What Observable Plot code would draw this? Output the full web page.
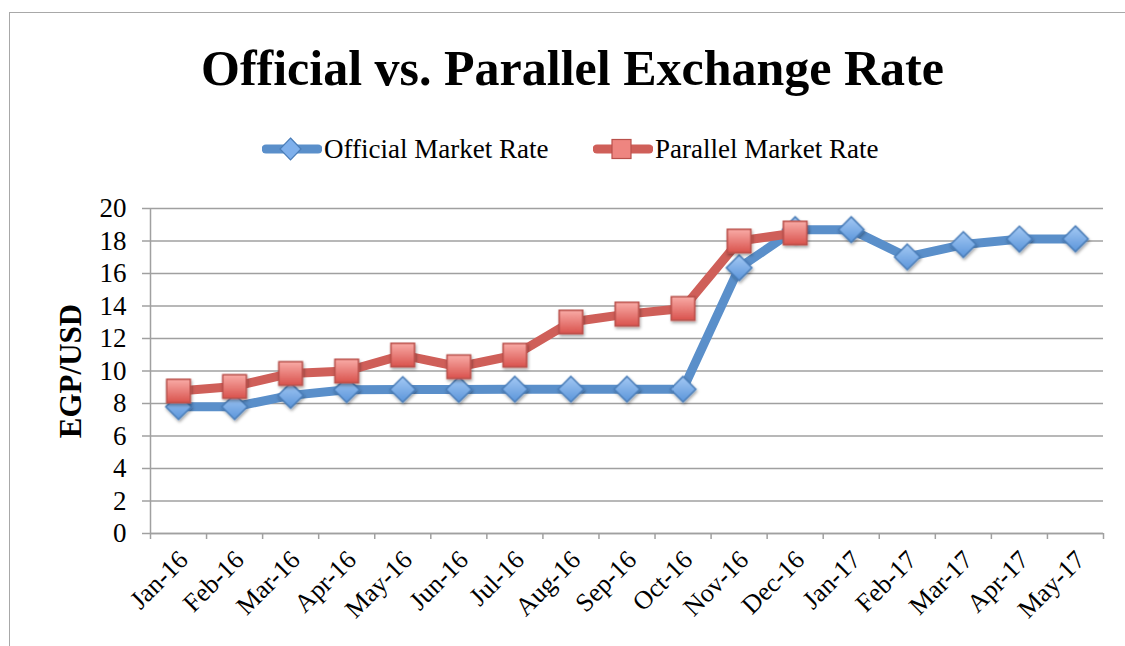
<!DOCTYPE html>
<html>
<head>
<meta charset="utf-8">
<script src="https://cdn.jsdelivr.net/npm/d3@7"></script>
<script src="https://cdn.jsdelivr.net/npm/@observablehq/plot@0.6"></script>
<style>
  body { margin: 0; background: #fff; }
  #wrap { position: relative; width: 1125px; height: 646px; overflow: hidden; font-family: "Liberation Serif", serif; }
  #frame { position: absolute; left: 9px; top: 12px; width: 1200px; height: 700px; border-left: 1.5px solid #a8a8a8; border-top: 1.5px solid #a8a8a8; }
  #title { position: absolute; left: 0; top: 43px; width: 1145px; text-align: center; font-size: 50px; font-weight: bold; color: #000; line-height: 1; }
  .leg { position: absolute; top: 134px; height: 30px; display: flex; align-items: center; font-size: 27px; color: #000; }
  .leg svg { margin-right: 2px; }
  #chart { position: absolute; left: 0; top: 0; }
</style>
</head>
<body>
<div id="wrap">
  <div id="frame"></div>
  <div id="title">Official vs. Parallel Exchange Rate</div>
  <div class="leg" id="leg1" style="left:262px"></div>
  <div class="leg" id="leg2" style="left:593px"></div>
  <div id="chart"></div>
</div>
<script>
const months = ["Jan-16","Feb-16","Mar-16","Apr-16","May-16","Jun-16","Jul-16","Aug-16","Sep-16","Oct-16","Nov-16","Dec-16","Jan-17","Feb-17","Mar-17","Apr-17","May-17"];
const official = [7.8, 7.8, 8.5, 8.85, 8.86, 8.86, 8.88, 8.88, 8.88, 8.88, 16.35, 18.7, 18.7, 17.02, 17.78, 18.12, 18.13];
const parallel = [8.77, 9.05, 9.85, 10.0, 10.98, 10.26, 10.97, 13.02, 13.5, 13.85, 18.0, 18.49];
const yTicks = [0, 2, 4, 6, 8, 10, 12, 14, 16, 18, 20];
const seriesNames = ["Official Market Rate", "Parallel Market Rate"];

const BLUE = "#5a8fca", BLUE_EDGE = "#4a7db8";
const RED = "#cf5f59", RED_EDGE = "#b9504b";

const officialRows = official.map((v, i) => ({i: i + 0.5, month: months[i], value: v}));
const parallelRows = parallel.map((v, i) => ({i: i + 0.5, month: months[i], value: v}));

const svgNS = "http://www.w3.org/2000/svg";
const defsMark = () => {
  const d = document.createElementNS(svgNS, "defs");
  d.innerHTML = `
    <linearGradient id="gBlue" x1="0" y1="0" x2="0" y2="1">
      <stop offset="0" stop-color="#a4c9f4"/><stop offset="1" stop-color="#5b95da"/>
    </linearGradient>
    <linearGradient id="gRed" x1="0" y1="0" x2="0" y2="1">
      <stop offset="0" stop-color="#f9aca7"/><stop offset="1" stop-color="#d9524d"/>
    </linearGradient>
    <filter id="shadow" x="-50%" y="-50%" width="200%" height="200%">
      <feDropShadow dx="1" dy="2" stdDeviation="1.5" flood-color="#000" flood-opacity="0.35"/>
    </filter>`;
  return d;
};

const chart = Plot.plot({
  width: 1125,
  height: 646,
  marginLeft: 150,
  marginRight: 22,
  marginTop: 208,
  marginBottom: 113,
  style: { fontFamily: "Liberation Serif, serif", color: "#000", background: "transparent" },
  x: { type: "linear", domain: [0, months.length], axis: null },
  y: { domain: [0, 20], axis: null },
  marks: [
    defsMark,
    Plot.gridY(yTicks, { stroke: "#a0a0a0", strokeOpacity: 1, strokeWidth: 1.5 }),
    Plot.axisY(yTicks, { tickSize: 8, stroke: "#a0a0a0", strokeWidth: 1.5, fontSize: 27, tickPadding: 16, label: null }),
    Plot.ruleX([0], { y1: 0, y2: 20, stroke: "#a0a0a0", strokeWidth: 1.5 }),
    Plot.ruleY([0], { stroke: "#a0a0a0", strokeWidth: 1.5 }),
    Plot.axisX(d3.range(0, months.length + 1), { tickSize: 6, tickFormat: () => "", stroke: "#a0a0a0", strokeWidth: 1.5, label: null }),
    Plot.axisX(months.map((m, i) => i + 0.5), { tickSize: 0, tickPadding: 22, tickRotate: -45, fontSize: 26, tickFormat: d => months[Math.floor(d)], label: null, dx: 5 }),
    Plot.text([ "EGP/USD" ], { frameAnchor: "left", textAnchor: "middle", dx: -79, rotate: -90, fontWeight: "bold", fontSize: 31, fill: "#000" }),
    Plot.line(officialRows, { x: "i", y: "value", stroke: BLUE, strokeWidth: 9, strokeLinejoin: "round", strokeLinecap: "round" }),
    Plot.dot(officialRows, { x: "i", y: "value", symbol: "diamond2", r: 11.5, fill: "url(#gBlue)", stroke: BLUE_EDGE, strokeWidth: 1.5 }),
    Plot.line(parallelRows, { x: "i", y: "value", stroke: RED, strokeWidth: 9, strokeLinejoin: "round", strokeLinecap: "round" }),
    Plot.dot(parallelRows, { x: "i", y: "value", symbol: "square2", r: 15, fill: "url(#gRed)", stroke: RED_EDGE, strokeWidth: 1.5 })
  ]
});
chart.querySelectorAll('g[aria-label="dot"]').forEach(g => g.setAttribute("filter", "url(#shadow)"));
document.getElementById("chart").appendChild(chart);

function legendItem(el, name, color, edge, fill, shape) {
  const marker = shape === "diamond"
    ? `<path d="M28.5,3 L39,14 L28.5,25 L18,14 Z" fill="${fill}" stroke="${edge}" stroke-width="1.2"/>`
    : `<rect x="19" y="4.5" width="19" height="19" fill="${fill}" stroke="${edge}" stroke-width="1.2"/>`;
  el.innerHTML = `<svg width="60" height="28" viewBox="0 0 60 28">
      <line x1="4" y1="14" x2="56" y2="14" stroke="${color}" stroke-width="9" stroke-linecap="round"/>
      ${marker}
    </svg><span>${name}</span>`;
}
legendItem(document.getElementById("leg1"), seriesNames[0], BLUE, BLUE_EDGE, "#7fb0ec", "diamond");
legendItem(document.getElementById("leg2"), seriesNames[1], RED, RED_EDGE, "#ee8580", "square");
</script>
</body>
</html>
